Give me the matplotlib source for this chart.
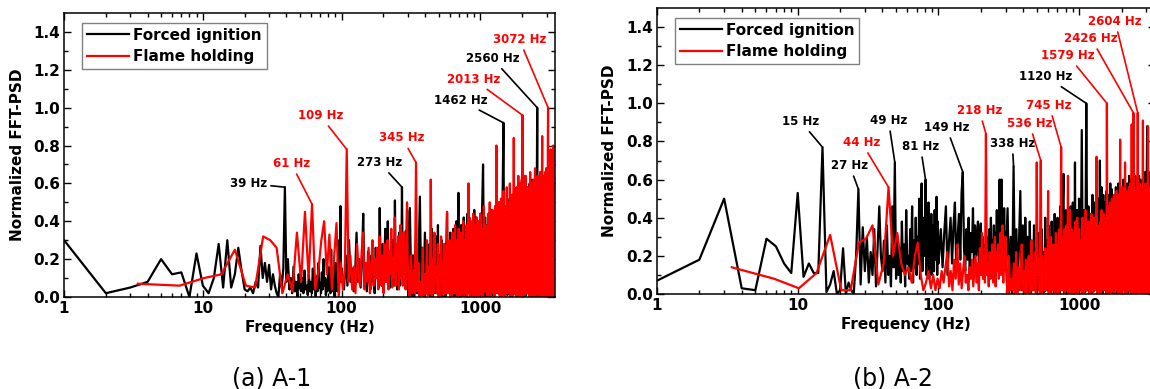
import numpy as np
import matplotlib.pyplot as plt

# frequency grids (start Hz, step Hz) of the typed blocks below
black_grid = [(1, 1), (101, 3), (302, 8), (1004, 20)]
red_grid = [(3.4, 3.4), (108.8, 3.4), (302.6, 6.8), (1003.6, 13.6)]

# normalized FFT-PSD x100
black_a = [
    "30 02 05 08 20 12 13 00 23 06 02 10 28 05 30 05 12 26 14 04 "
    "03 05 02 08 05 27 10 18 08 17 04 12 06 02 00 12 05 15 58 08 "
    "20 04 10 02 16 03 08 00 12 05 03 10 02 14 04 06 01 12 03 08 "
    "02 15 04 09 00 11 03 18 05 07 02 13 04 20 06 10 01 09 03 16 "
    "05 12 02 25 06 14 03 08 00 18 04 11 03 20 06 30 10 48 08 15",
    "10 04 22 06 30 08 15 03 12 34 08 20 05 18 44 06 16 03 24 10 "
    "04 22 08 14 02 26 10 18 05 47 12 06 28 04 16 36 08 20 40 10 "
    "18 05 24 08 30 14 06 51 10 22 04 26 12 34 06 20 10 58 15 30 "
    "08 24 12 35 06 46 18",
    "00 47 00 22 00 30 02 18 53 02 26 03 34 02 20 02 28 00 36 00 "
    "24 02 32 02 38 02 22 01 30 00 00 28 00 22 44 03 26 02 34 02 "
    "30 01 36 00 28 00 40 00 26 55 02 32 02 38 02 26 00 42 01 30 "
    "00 36 01 44 02 28 03 40 02 34 02 38 00 30 00 46 02 36 00 42 "
    "02 34 02 40 02 32 00 44",
    "02 40 70 00 42 00 38 03 44 02 46 01 40 00 48 03 42 03 50 00 "
    "44 02 52 92 03 48 03 46 01 50 02 52 00 48 00 54 03 50 03 56 "
    "01 52 00 58 00 50 02 54 03 56 03 58 00 52 00 60 01 54 02 58 "
    "03 56 03 60 00 54 00 62 01 56 02 60 03 58 03 62 00 56 100 01 "
    "58 02 62 00 56 00 60 03 58 03 62 01 56 00 60 00 58 02 62 03 "
    "58 03 60 00 56 00 62 01 58 02 60 03 56 03 58 01 62 00 56 00 "
    "58 00 56",
]
red_a = [
    "07 06 10 12 25 06 05 32 30 26 02 12 03 34 08 45 10 49 04 14 "
    "30 40 12 33 04 22 39 00 18 04 14",
    "78 08 22 04 16 02 28 10 06 24 34 04 18 08 26 02 14 30 06 20 "
    "10 26 04 32 12 06 22 02 28 14 08 30 04 24 12 36 05 20 10 42 "
    "06 28 14 32 04 22 38 10 26 06 34 12 24 04 30 50 20",
    "10 00 22 02 14 02 71 03 18 00 08 01 26 00 12 02 30 01 16 02 "
    "62 00 20 02 34 10 16 02 28 00 18 00 32 12 14 01 28 02 22 02 "
    "45 02 24 10 30 00 18 00 34 02 22 02 38 14 20 00 30 02 36 00 "
    "28 00 34 12 22 02 40 00 30 02 26 14 38 00 30 02 60 14 42 00 "
    "34 02 40 16 28 00 44 02 32 12 38 00 32 00 42 02 36 02 40 00 "
    "34 02 44",
    "42 01 36 00 48 03 38 03 34 00 44 02 50 00 36 02 46 02 40 00 "
    "48 03 80 02 40 02 50 01 42 00 52 00 44 01 56 03 46 00 40 03 "
    "58 02 46 02 50 02 60 00 48 03 54 01 50 01 84 03 56 03 48 00 "
    "58 00 50 03 64 00 52 02 60 02 54 00 62 00 96 01 56 01 64 01 "
    "54 02 64 02 48 03 58 02 52 03 58 00 50 00 66 01 52 03 56 01 "
    "60 02 52 02 62 01 50 00 68 00 52 02 58 01 50 03 64 03 56 03 "
    "60 01 52 00 66 00 56 00 50 01 58 85 02 60 02 52 00 64 02 56 "
    "00 66 01 58 00 68 03 60 01 62 02 80 100 03 60 00 64 00 58 02 "
    "62 01 78 03 60 03 66 00 58 01 64 02 80 02 60 00 56 00 54 52",
]
black_b = [
    "07 18 50 03 02 29 25 16 11 53 09 16 11 11 77 01 05 12 00 02 "
    "24 00 06 02 00 20 55 05 35 12 30 06 22 10 34 04 26 46 20 12 "
    "28 06 36 10 20 04 46 14 69 08 30 10 24 06 38 12 26 04 44 16 "
    "20 08 34 12 46 06 28 14 40 10 30 16 50 08 36 58 12 26 40 20 "
    "60 10 34 18 48 08 30 14 42 10 26 36 12 44 18 30 51 10 38 16",
    "20 34 14 32 46 10 28 40 16 36 48 12 30 42 18 53 64 24 12 34 "
    "18 40 10 32 22 45 14 36 20 30 38 12 28 37 16 30 08 26 14 22 "
    "10 30 16 34 12 40 18 28 10 36 14 32 22 44 16 38 20 60 14 30 "
    "60 18 36 12 45 20 32",
    "20 45 00 30 00 67 02 34 02 28 54 02 36 00 40 16 30 00 38 00 "
    "28 02 36 02 24 00 32 02 26 00 34 00 22 01 40 02 28 02 36 02 "
    "30 00 38 16 26 00 42 00 34 02 40 02 30 00 46 18 36 02 48 63 "
    "00 38 02 44 16 30 02 42 00 36 20 46 00 34 02 48 18 38 02 69 "
    "02 40 00 44 18 36 02 50",
    "40 02 86 00 44 01 100 02 46 00 42 00 52 03 48 03 54 00 50 02 "
    "70 01 56 00 52 03 48 03 54 00 02 52 03 58 01 55 00 50 00 52 "
    "02 56 00 52 03 58 03 54 00 52 01 56 03 60 03 54 02 58 00 56 "
    "00 58 01 62 03 56 03 60 00 56 02 60 03 58 00 62 01 58 00 60 "
    "03 58 01 62 03 60 00 58 02 56 00 60 03 62 01 58 03 64 02 58 "
    "00 62 88 00 60 02 64 03 60 01 03 60 00 62 00 56 01 54 02 56 "
    "00 60 03",
]
red_b = [
    "14 08 03 11 31 02 02 27 29 36 05 16 56 20 32 16 10 14 06 20 "
    "27 10 02 06 12 03 10 02 08 03 12",
    "06 14 22 04 12 02 18 08 26 05 16 03 12 20 06 10 02 14 08 18 "
    "04 12 20 06 16 02 24 10 32 08 20 06 84 10 16 04 22 08 14 26 "
    "06 18 30 04 22 12 26 08 16 32 10 24 36 06 28 14 30",
    "12 00 20 02 08 02 16 00 22 00 14 02 10 26 02 12 00 18 00 14 "
    "20 00 10 28 02 16 02 22 00 69 10 18 02 24 70 00 20 02 16 02 "
    "24 02 18 10 54 00 22 00 30 12 16 02 26 12 20 00 32 10 18 00 "
    "26 00 34 02 20 77 02 30 02 24 14 34 00 28 02 36 16 26 62 00 "
    "30 02 44 00 26 14 34 00 28 02 32 10 26 00 38 02 30 18 40 00 "
    "28 02 34",
    "34 03 28 00 40 00 30 02 44 02 30 02 38 01 32 01 42 03 36 01 "
    "40 02 32 03 72 00 36 00 30 00 38 01 44 02 34 03 42 02 40 03 "
    "34 00 100 02 46 00 32 01 48 01 42 01 50 03 40 03 52 00 38 02 "
    "46 02 54 02 40 00 48 00 52 03 81 01 48 01 42 00 56 03 46 02 "
    "44 02 69 00 50 00 46 01 54 02 48 03 56 03 46 03 58 01 50 01 "
    "89 02 50 02 46 95 00 56 00 40 50 00 54 03 46 03 60 01 95 02 "
    "44 02 52 01 58 00 50 01 46 00 52 03 56 03 48 91 01 58 02 50 "
    "00 48 03 56 02 50 01 58 03 46 00 54 01 88 00 46 00 56 02 50 "
    "02 48 01 54 00 50 01 46 00 52 01 54 03 48 03 50 03 46 02 48",
]

# labelled peaks: (frequency, series, label position in data coords)
peaks_a = [(39, "k", 21.2, 0.60), (61, "r", 43.3, 0.705), (109, "r", 70.1, 0.958),
           (273, "k", 187, 0.71), (345, "r", 273, 0.84), (1462, "k", 716, 1.04),
           (2013, "r", 889, 1.15), (2560, "k", 1218, 1.26), (3072, "r", 1906, 1.36)]
peaks_b = [(15, "k", 10.5, 0.905), (27, "k", 23.4, 0.674), (44, "r", 28.4, 0.795),
           (49, "k", 44.2, 0.91), (81, "k", 74.5, 0.774), (149, "k", 114, 0.874),
           (218, "r", 195, 0.963), (338, "k", 335, 0.79), (536, "r", 442, 0.895),
           (745, "r", 612, 0.99), (1120, "k", 583, 1.14), (1579, "r", 836, 1.25),
           (2426, "r", 1217, 1.34), (2604, "r", 1800, 1.43)]


def series(grid, blocks):
    f, v = [], []
    for (f0, df), s in zip(grid, blocks):
        vals = np.array(s.split(), float) / 100
        f.append(f0 + df * np.arange(len(vals)))
        v.append(vals)
    return np.concatenate(f), np.concatenate(v)


def panel(ax, black, red, peaks, leg_anchor):
    fb, vb = series(black_grid, black)
    fr, vr = series(red_grid, red)
    ax.plot(fb, vb, color="black", lw=1.6, label="Forced ignition")
    ax.plot(fr, vr, color="#ff0000", lw=1.6, label="Flame holding")
    ax.set_xscale("log")
    ax.set_xlim(1, 3450)
    ax.set_ylim(0, 1.5)
    ax.set_xticks([1, 10, 100, 1000])
    ax.set_xticklabels(["1", "10", "100", "1000"])
    ax.set_yticks(np.arange(0, 1.41, 0.2))
    ax.set_yticks(np.arange(0.1, 1.5, 0.2), minor=True)
    ax.tick_params(which="both", direction="in", top=True, right=True,
                   labelsize=11, width=1, pad=3)
    ax.tick_params(which="major", length=5)
    ax.tick_params(which="minor", length=3)
    for lab in ax.get_xticklabels() + ax.get_yticklabels():
        lab.set_fontweight("bold")
    for sp in ax.spines.values():
        sp.set_linewidth(1.1)
    ax.set_xlabel("Frequency (Hz)", fontsize=11, fontweight="bold", labelpad=3)
    ax.set_ylabel("Normalized FFT-PSD", fontsize=11, fontweight="bold", labelpad=6)
    leg = ax.legend(loc="upper left", bbox_to_anchor=leg_anchor, borderaxespad=0,
                    prop={"size": 11, "weight": "bold"}, handlelength=2.75,
                    handletextpad=0.3, labelspacing=0.45, borderpad=0.3,
                    fancybox=False, framealpha=1, edgecolor="#808080")
    leg.get_frame().set_linewidth(1.0)
    for f0, c, tx, ty in peaks:
        f, v = (fb, vb) if c == "k" else (fr, vr)
        m = np.abs(f - f0) < 0.03 * f0
        i = np.flatnonzero(m)[np.argmax(v[m])]
        col = "black" if c == "k" else "#ff0000"
        ax.annotate(f"{f0} Hz", xy=(f[i], v[i]), xytext=(tx, ty),
                    ha="center", va="center", fontsize=8.5, fontweight="bold",
                    color=col,
                    arrowprops=dict(arrowstyle="-", color=col, lw=1.2,
                                    shrinkA=1, shrinkB=0))


fig = plt.figure(figsize=(11.5, 3.89), dpi=100)
ax1 = fig.add_axes([0.0557, 0.2365, 0.4270, 0.7301])
ax2 = fig.add_axes([0.5713, 0.2442, 0.4329, 0.7352])
panel(ax1, black_a, red_a, peaks_a, (0.037, 0.965))
panel(ax2, black_b, red_b, peaks_b, (0.036, 0.965))

fig.text(0.2365, 0.026, "(a) A-1", ha="center", va="center", fontsize=17)
fig.text(0.7765, 0.026, "(b) A-2", ha="center", va="center", fontsize=17)

fig.savefig("out.png", dpi=100)
